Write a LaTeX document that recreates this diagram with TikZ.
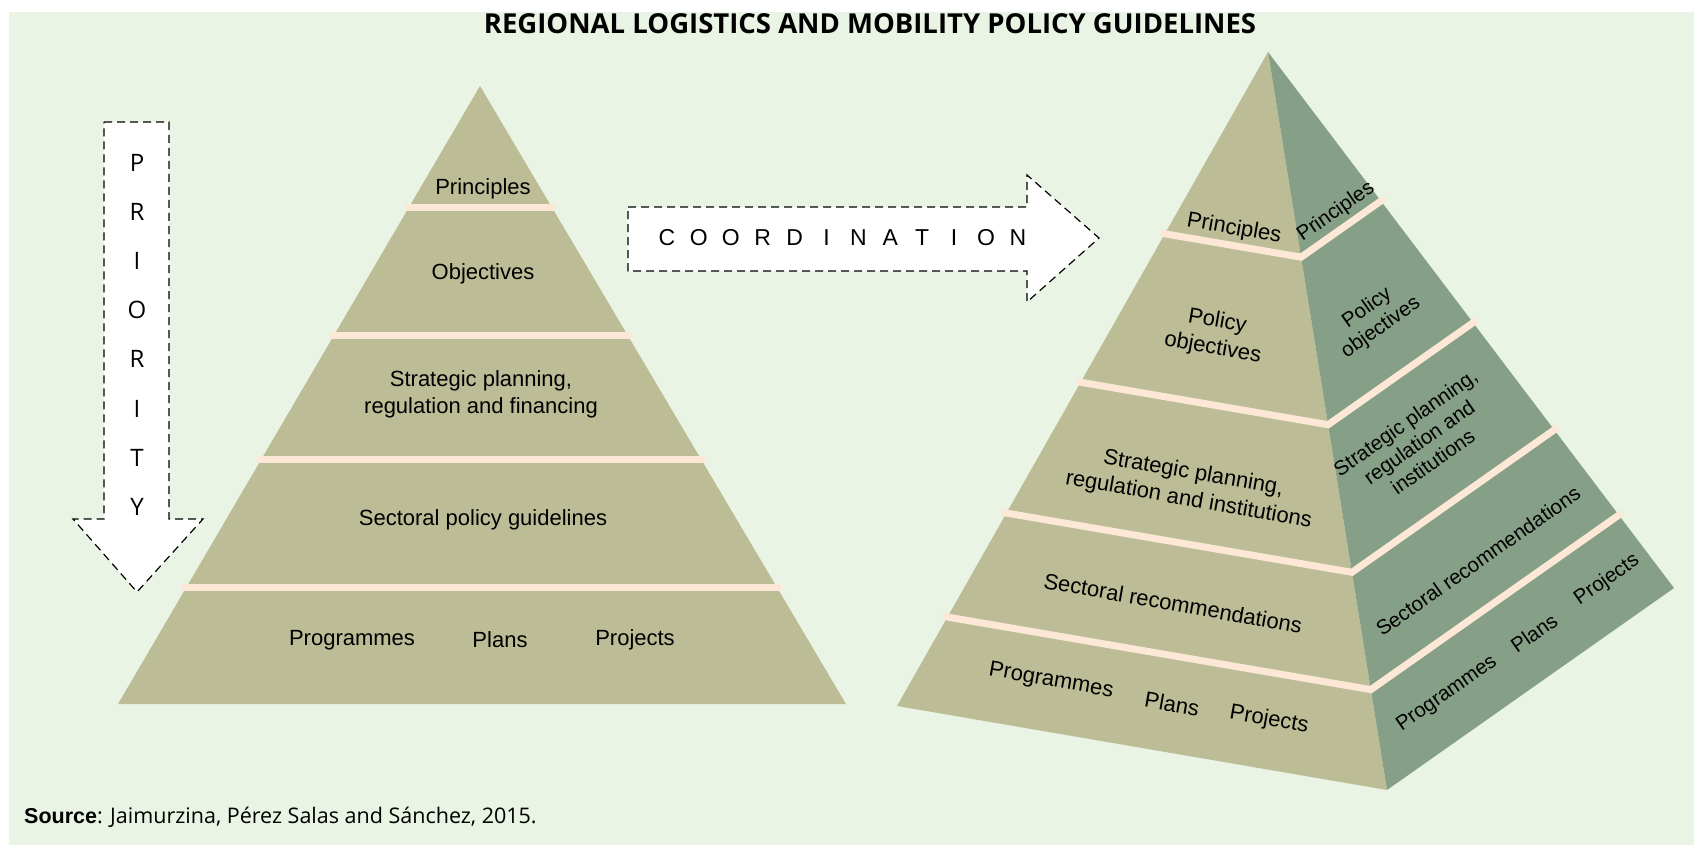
\documentclass[tikz,border=0pt]{standalone}
\usepackage{fontspec}
\setmainfont{Liberation Sans}
\newfontfamily\frut{Open Sans}
\usetikzlibrary{calc}

\definecolor{bg}{HTML}{E9F4E4}
\definecolor{front}{HTML}{BCBD96}
\definecolor{side}{HTML}{86A087}
\definecolor{streak}{HTML}{FDE8D7}

\begin{document}
\begin{tikzpicture}[
    x=1pt, y=-1pt,
    txt/.style={align=center, inner sep=0pt, font=\fontsize{22}{27}\selectfont},
    sidetxt/.style={txt, rotate=35, font=\fontsize{20.5}{24}\selectfont},
    stripe/.style={draw=streak, line width=7pt, shorten <=-4pt, shorten >=-4pt},
    pil/.style={draw=black, fill=white, line width=1.2pt, dash pattern=on 8pt off 5pt},
    bokstav/.style={inner sep=0pt, font=\frut\fontsize{24}{24}\selectfont}
    ]
    \useasboundingbox (0,0) rectangle (1694,845);
\fill[bg] (9,12) rectangle (1694,845);

\node[inner sep=0pt, font=\frut\bfseries\fontsize{27.5}{27.5}\selectfont] (title) at (870,24)
    {REGIONAL LOGISTICS AND MOBILITY POLICY GUIDELINES};

% left pyramid
\coordinate (lA) at (480,86);
\coordinate (lL) at (118,704);
\coordinate (lR) at (846,704);
\fill[front] (lA) -- (lL) -- (lR) -- cycle;
\foreach \t in {0.196,0.404,0.604,0.812}
    \draw[stripe] ($(lA)!\t!(lL)$) -- ($(lA)!\t!(lR)$);

\node[txt] (lprin) at (483,189) {Principles};
\node[txt] (lobj)  at (483,274) {Objectives};
\node[txt] (lstr)  at (481,394) {Strategic planning,\\regulation and financing};
\node[txt] (lsec)  at (483,520) {Sectoral policy guidelines};
\node[txt] (lprog) at (352,640) {Programmes};
\node[txt] (lplan) at (500,640) {Plans};
\node[txt] (lproj) at (635,640) {Projects};

% priority arrow
\draw[pil] (104,122) -- (169,122) -- (169,519) -- (203,519) -- (137,592)
    -- (73,519) -- (104,519) -- cycle;
\foreach \c [count=\i from 0] in {P,R,I,O,R,I,T,Y}
    \node[bokstav] (prio\i) at (137,163+49.1*\i) {\c};

% coordination arrow
\draw[pil] (628,207) -- (1027,207) -- (1027,175) -- (1099,238) -- (1027,302)
    -- (1027,271) -- (628,271) -- cycle;
\foreach \c [count=\i from 0] in {C,O,O,R,D,I,N,A,T,I,O,N}
    \node[txt, font=\fontsize{23}{23}\selectfont] (coord\i) at (667+31.9*\i,238) {\c};

% right pyramid
\coordinate (A)  at (1268,52);
\coordinate (FL) at (897,706);
\coordinate (FR) at (1387,790);
\coordinate (BR) at (1674,588);
\fill[front] (A) -- (FL) -- (FR) -- cycle;
\fill[side] (A) -- (FR) -- (BR) -- cycle;
\foreach \t in {0.278,0.505,0.705,0.864}
    \draw[stripe, line join=miter] ($(A)!\t!(FL)$) -- ($(A)!\t!(FR)$) -- ($(A)!\t!(BR)$);

\node[txt, rotate=-10] (fprin) at (1234,229) {Principles};
\node[txt, rotate=-10] (fobj)  at (1215,335) {Policy\\objectives};
\node[txt, rotate=-10] (fstr)  at (1191,487) {Strategic planning,\\regulation and institutions};
\node[txt, rotate=-10] (fsec)  at (1173,603) {Sectoral recommendations};
\node[txt, rotate=-10] (fprog) at (1051,681) {Programmes};
\node[txt, rotate=-10] (fplan) at (1172,704) {Plans};
\node[txt, rotate=-10] (fproj) at (1269,720) {Projects};

\node[sidetxt] (sprin) at (1336,212) {Principles};
\node[sidetxt] (sobj)  at (1374,318) {Policy\\objectives};
\node[sidetxt] (sstr)  at (1419,442) {Strategic planning,\\regulation and\\institutions};
\node[sidetxt] (ssec)  at (1478,561) {Sectoral recommendations};
\node[sidetxt] (sprog) at (1447,694) {Programmes};
\node[sidetxt] (splan) at (1534,633) {Plans};
\node[sidetxt] (sproj) at (1607,580) {Projects};

\node[anchor=base west, inner sep=0pt, font=\fontsize{21.5}{21.5}\selectfont] (src) at (24,823)
    {\textbf{Source}{\frut: Jaimurzina, Pérez Salas and Sánchez, 2015.}};
\end{tikzpicture}
\end{document}
